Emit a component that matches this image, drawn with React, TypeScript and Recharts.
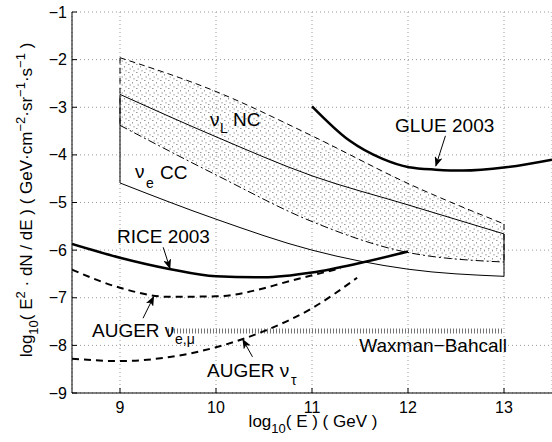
import React from 'react';
import { ComposedChart, Line, Area, XAxis, YAxis, CartesianGrid, ReferenceLine } from 'recharts';

// axes
const xTicks = [9, 10, 11, 12, 13];
const yTicks = [-9, -8, -7, -6, -5, -4, -3, -2, -1];

// nu_L NC band (dashed, dotted fill) and nu_e CC band (solid)
const bandX = [9, 10, 11, 12, 13];
const ncUpper = [-1.96, -2.67, -3.6, -4.6, -5.45];
const ncLower = [-3.38, -4.42, -5.4, -6.05, -6.25];
const ccUpper = [-2.73, -3.62, -4.44, -5.05, -5.66];
const ccLower = [-4.59, -5.35, -6.0, -6.4, -6.55];

// experiment limits
const glueX = [11, 11.39, 11.73, 12.01, 12.29, 12.57, 13.02, 13.5];
const glueY = [-2.98, -3.7, -4.08, -4.26, -4.31, -4.33, -4.26, -4.1];
const riceX = [8.5, 9, 9.5, 10, 10.5, 11, 11.5, 12];
const riceY = [-5.87, -6.16, -6.39, -6.55, -6.57, -6.47, -6.27, -6.03];
const augerEmuX = [8.5, 9, 9.5, 10, 10.5, 10.66, 11.3];
const augerEmuY = [-6.41, -6.79, -6.98, -6.97, -6.8, -6.71, -6.38];
const augerTauX = [8.5, 9, 9.5, 10, 10.5, 11, 11.47];
const augerTauY = [-8.28, -8.33, -8.25, -8.04, -7.7, -7.22, -6.58];
const wbX = [9.5, 13];
const wbY = [-7.7, -7.7];

// annotation arrows (tail -> head)
const glueArrowX = [12.39, 12.29];
const glueArrowY = [-3.6, -4.23];
const riceArrowX = [9.45, 9.52];
const riceArrowY = [-5.94, -6.38];
const emuArrowX = [9.24, 9.35];
const emuArrowY = [-7.43, -6.98];
const tauArrowX = [10.38, 10.28];
const tauArrowY = [-8.24, -7.88];

const pts = (xs: number[], ys: number[]) => xs.map((x, i) => ({ x, y: ys[i] }));
const bandData = bandX.map((x, i) => ({ x, nc: [ncLower[i], ncUpper[i]] }));

const font = '"Liberation Sans", Arial, Helvetica, sans-serif';

function XTick(props: any) {
  const { x, y, payload } = props;
  return (
    <g>
      <line x1={x} x2={x} y1={y} y2={y - 5} stroke="#000" />
      <text x={x} y={y + 20} textAnchor="middle" fontSize={16} fontFamily={font} fill="#000">
        {payload.value}
      </text>
    </g>
  );
}

function YTick(props: any) {
  const { x, y, payload } = props;
  return (
    <g>
      <line x1={x} x2={x + 5} y1={y} y2={y} stroke="#000" />
      <text x={x - 5} y={y} dy="0.35em" textAnchor="end" fontSize={16} fontFamily={font} fill="#000">
        {'\u2212' + Math.abs(payload.value)}
      </text>
    </g>
  );
}

export default function App() {
  const arrow = (xs: number[], ys: number[], key: string) => (
    <Line
      key={key}
      data={pts(xs, ys)}
      dataKey="y"
      stroke="#000"
      strokeWidth={1}
      dot={false}
      markerEnd="url(#arrowHead)"
      isAnimationActive={false}
    />
  );

  return (
    <div style={{ position: 'absolute', left: 0, top: 0, width: 552, height: 442, background: '#fff' }}>
      <svg width={0} height={0} style={{ position: 'absolute' }}>
        <defs>
          <pattern id="dots" width={8} height={8} patternUnits="userSpaceOnUse">
            <rect x={0} y={0} width={1.5} height={1} fill="#999" />
            <rect x={4} y={2} width={1} height={1.5} fill="#999" />
            <rect x={1.5} y={4.5} width={1.5} height={1} fill="#999" />
            <rect x={5.5} y={6} width={1} height={1.5} fill="#999" />
          </pattern>
          <marker id="arrowHead" markerUnits="userSpaceOnUse" markerWidth={10} markerHeight={8} refX={9} refY={4} orient="auto">
            <path d="M0,0 L10,4 L0,8 L2.5,4 z" fill="#000" />
          </marker>
        </defs>
      </svg>
      <ComposedChart width={552} height={442} data={bandData} margin={{ top: 12, right: 0, bottom: 19, left: 0 }}>
        <CartesianGrid stroke="#999" strokeDasharray="1 3" />
        <XAxis
          type="number"
          dataKey="x"
          domain={[8.5, 13.5]}
          ticks={xTicks}
          height={30}
          allowDataOverflow
          tickSize={0}
          tickMargin={0}
          tickLine={false}
          axisLine={{ stroke: '#000' }}
          tick={<XTick />}
        />
        <YAxis
          type="number"
          domain={[-9, -1]}
          ticks={yTicks}
          width={72}
          allowDataOverflow
          tickSize={0}
          tickMargin={0}
          tickLine={false}
          axisLine={{ stroke: '#000' }}
          tick={<YTick />}
        />
        <Area type="monotone" dataKey="nc" stroke="none" fill="url(#dots)" fillOpacity={1} isAnimationActive={false} />
        <Line data={pts(bandX, ncUpper)} dataKey="y" type="monotone" stroke="#000" strokeWidth={1} strokeDasharray="6 4" dot={false} isAnimationActive={false} />
        <Line data={pts(bandX, ncLower)} dataKey="y" type="monotone" stroke="#000" strokeWidth={1} strokeDasharray="8 3 2 3" dot={false} isAnimationActive={false} />
        <ReferenceLine segment={[{ x: bandX[0], y: ncUpper[0] }, { x: bandX[0], y: ncLower[0] }]} stroke="#000" strokeDasharray="6 4" />
        <ReferenceLine segment={[{ x: bandX[4], y: ncUpper[4] }, { x: bandX[4], y: ncLower[4] }]} stroke="#000" strokeDasharray="6 4" />
        <Line data={pts(bandX, ccUpper)} dataKey="y" type="monotone" stroke="#000" strokeWidth={1} dot={false} isAnimationActive={false} />
        <Line data={pts(bandX, ccLower)} dataKey="y" type="monotone" stroke="#000" strokeWidth={1} dot={false} isAnimationActive={false} />
        <ReferenceLine segment={[{ x: bandX[0], y: ccUpper[0] }, { x: bandX[0], y: ccLower[0] }]} stroke="#000" />
        <ReferenceLine segment={[{ x: bandX[4], y: ccUpper[4] }, { x: bandX[4], y: ccLower[4] }]} stroke="#000" />
        <Line data={pts(wbX, wbY)} dataKey="y" stroke="#777" strokeWidth={5} strokeDasharray="1 2" dot={false} isAnimationActive={false} />
        <Line data={pts(glueX, glueY)} dataKey="y" type="monotone" stroke="#000" strokeWidth={2.5} dot={false} isAnimationActive={false} />
        <Line data={pts(riceX, riceY)} dataKey="y" type="monotone" stroke="#000" strokeWidth={2.5} dot={false} isAnimationActive={false} />
        <Line data={pts(augerEmuX, augerEmuY)} dataKey="y" type="monotone" stroke="#000" strokeWidth={2} strokeDasharray="7 5" dot={false} isAnimationActive={false} />
        <Line data={pts(augerTauX, augerTauY)} dataKey="y" type="monotone" stroke="#000" strokeWidth={2} strokeDasharray="7 5" dot={false} isAnimationActive={false} />
        {arrow(glueArrowX, glueArrowY, 'ga')}
        {arrow(riceArrowX, riceArrowY, 'ra')}
        {arrow(emuArrowX, emuArrowY, 'ea')}
        {arrow(tauArrowX, tauArrowY, 'ta')}
      </ComposedChart>
      <svg width={552} height={442} style={{ position: 'absolute', left: 0, top: 0, pointerEvents: 'none' }} fontFamily={font} fill="#000">
        <text x={395} y={132} fontSize={19}>GLUE 2003</text>
        <text x={117} y={243} fontSize={19}>RICE 2003</text>
        <text x={92} y={337} fontSize={19}>AUGER ν</text>
        <text x={175} y={344} fontSize={14}>e,μ</text>
        <text x={207} y={377} fontSize={19}>AUGER ν</text>
        <text x={291} y={385} fontSize={14}>τ</text>
        <text x={507} y={352} fontSize={19} textAnchor="end">Waxman−Bahcall</text>
        <text x={210} y={126} fontSize={19}>ν</text>
        <text x={220} y={133} fontSize={14}>L</text>
        <text x={233} y={126} fontSize={19}>NC</text>
        <text x={135} y={178} fontSize={19}>ν</text>
        <text x={146} y={188} fontSize={14}>e</text>
        <text x={160} y={179} fontSize={19}>CC</text>
        <text x={313} y={427} fontSize={17} textAnchor="middle">
          log<tspan fontSize={13} dy={6}>10</tspan>
          <tspan dy={-6}>( E ) ( GeV )</tspan>
        </text>
        <text transform="translate(32,200) rotate(-90)" fontSize={17} textAnchor="middle">
          log<tspan fontSize={13} dy={6}>10</tspan>
          <tspan dy={-6}>( E</tspan>
          <tspan fontSize={13} dy={-7}>2</tspan>
          <tspan dy={7}> · dN / dE )  ( GeV·cm</tspan>
          <tspan fontSize={13} dy={-7}>−2</tspan>
          <tspan dy={7}>·sr</tspan>
          <tspan fontSize={13} dy={-7}>−1</tspan>
          <tspan dy={7}>·s</tspan>
          <tspan fontSize={13} dy={-7}>−1</tspan>
          <tspan dy={7}> )</tspan>
        </text>
      </svg>
    </div>
  );
}
